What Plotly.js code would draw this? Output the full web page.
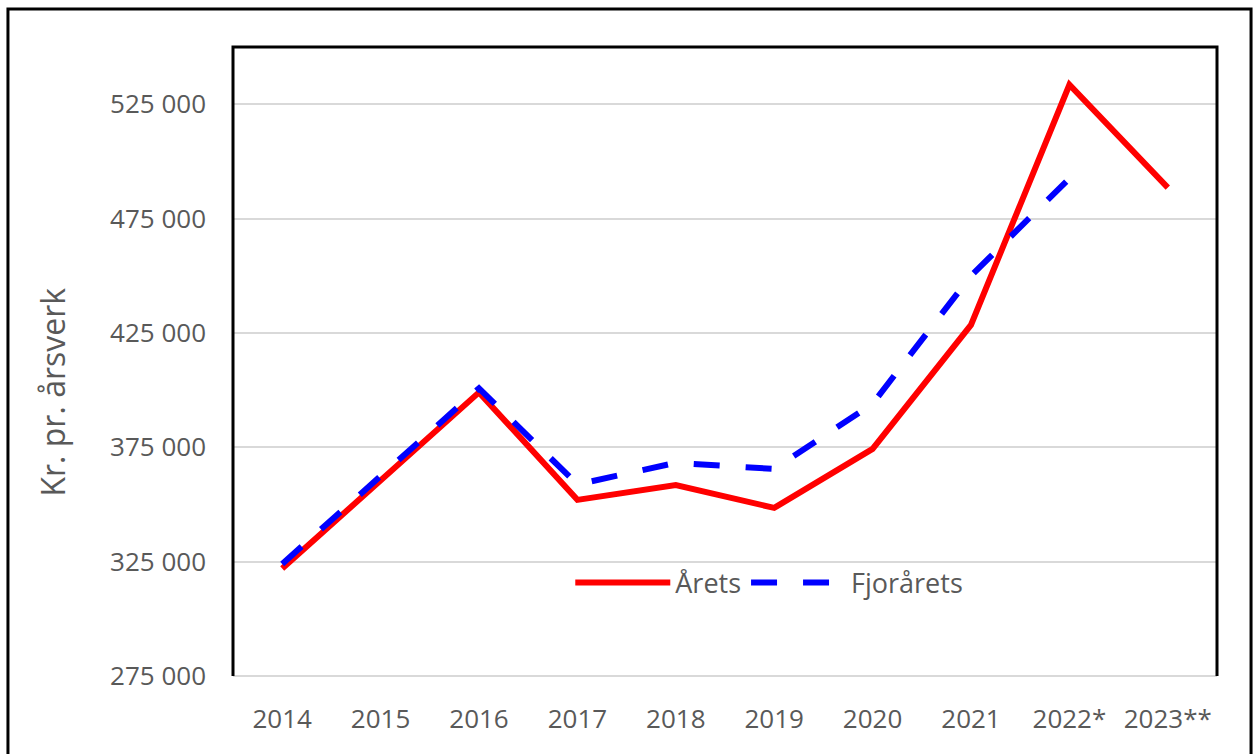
<!DOCTYPE html>
<html>
<head>
<meta charset="utf-8">
<script src="https://cdn.plot.ly/plotly-3.0.1.min.js"></script>
<style>html,body{margin:0;padding:0;background:#fff;}#chart{width:1253px;height:754px;}</style>
</head>
<body>
<div id="chart"></div>
<script>
const categories = ["2014","2015","2016","2017","2018","2019","2020","2021","2022*","2023**"];
const aretsValues = [322000, 360500, 399000, 352000, 358500, 348500, 374300, 428500, 533500, 488500];
const fjoraretsValues = [324000, 362500, 400800, 358800, 368200, 365500, 394000, 450000, 492500];
const seriesNames = ["Årets", "Fjorårets"];
const yTitle = "Kr. pr. årsverk";

const textColor = "#595959";
const font = "'Open Sans', 'Noto Sans', sans-serif";

const traces = [
  {x: categories, y: aretsValues, name: seriesNames[0], type: "scatter", mode: "lines",
   line: {color: "#FF0000", width: 6}},
  {x: categories.slice(0, fjoraretsValues.length), y: fjoraretsValues, name: seriesNames[1], type: "scatter", mode: "lines",
   line: {color: "#0000FF", width: 6, dash: "26px,26px"}}
];

const layout = {
  width: 1253, height: 754,
  margin: {l: 233, r: 36, t: 47, b: 78},
  paper_bgcolor: "#fff", plot_bgcolor: "#fff",
  separators: ", ",
  showlegend: true,
  legend: {orientation: "h", x: 0.545, xanchor: "center", y: 0.148, yanchor: "middle",
           font: {family: font, size: 27, color: textColor}, bgcolor: "rgba(0,0,0,0)",
           itemwidth: 95, traceorder: "normal"},
  xaxis: {type: "category", categoryorder: "array", categoryarray: categories,
          range: [-0.5, 9.5], showgrid: false, showline: false, zeroline: false,
          ticks: "", ticklabelstandoff: 25,
          tickfont: {family: font, size: 26, color: textColor}, fixedrange: true},
  yaxis: {range: [275000, 550000], tick0: 275000, dtick: 50000, tickformat: ",d",
          showgrid: true, gridcolor: "#d9d9d9", gridwidth: 2, zeroline: false,
          showline: false, ticks: "", ticklabelstandoff: 26,
          tickfont: {family: font, size: 26, color: textColor},
          fixedrange: true},
  annotations: [
    {text: yTitle, xref: "paper", yref: "paper", x: -0.183, y: 0.452, xanchor: "center", yanchor: "middle",
     textangle: -90, showarrow: false, font: {family: font, size: 32, color: textColor}}
  ],
  shapes: [
    {type: "line", xref: "paper", yref: "paper", x0: 0, x1: 1, y0: 0, y1: 0,
     line: {color: "#d9d9d9", width: 2}, layer: "below"},
    {type: "path", xref: "paper", yref: "paper", path: "M0,0 L0,1 L1,1 L1,0",
     line: {color: "#000", width: 3}, layer: "above"},
    {type: "rect", xref: "paper", yref: "paper", x0: -0.2287, x1: 1.0346, y0: -0.14, y1: 1.0604,
     line: {color: "#000", width: 3}, layer: "below"}
  ]
};

Plotly.newPlot("chart", traces, layout, {displayModeBar: false, staticPlot: true});
</script>
</body>
</html>
